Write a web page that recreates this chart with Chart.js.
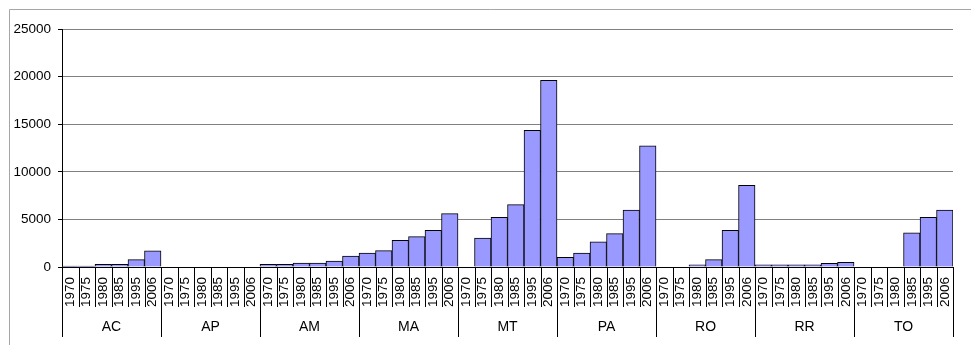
<!DOCTYPE html>
<html>
<head>
<meta charset="utf-8">
<script src="https://cdn.jsdelivr.net/npm/chart.js@4/dist/chart.umd.min.js"></script>
<style>
  html, body { margin: 0; padding: 0; background: #ffffff; }
  #wrap { width: 971px; height: 345px; position: relative; }
</style>
</head>
<body>
<div id="wrap"><canvas id="chart" width="971" height="345"></canvas></div>
<script>
// States (outer category level) and survey years (inner level)
const states = ['AC', 'AP', 'AM', 'MA', 'MT', 'PA', 'RO', 'RR', 'TO'];
const years = ['1970', '1975', '1980', '1985', '1995', '2006'];

// Values per state, one entry per year
const acValues = [90, 90, 280, 280, 770, 1710];
const apValues = [0, 0, 0, 0, 0, 0];
const amValues = [280, 280, 420, 420, 630, 1160];
const maValues = [1470, 1720, 2800, 3190, 3860, 5600];
const mtValues = [0, 3050, 5220, 6550, 14350, 19600];
const paValues = [1020, 1470, 2650, 3500, 5990, 12740];
const roValues = [0, 0, 240, 770, 3860, 8580];
const rrValues = [240, 240, 240, 240, 380, 490];
const toValues = [0, 0, 0, 3600, 5220, 5990];

// Y-axis ticks
const yTicks = [0, 5000, 10000, 15000, 20000, 25000];

const stateSeries = [acValues, apValues, amValues, maValues, mtValues, paValues, roValues, rrValues, toValues];
const labels = [];
const values = [];
stateSeries.forEach(function (series) {
  series.forEach(function (v, j) {
    labels.push(years[j]);
    values.push(v);
  });
});

const FONT_FAMILY = '"Liberation Sans", Arial, sans-serif';
const FONT = { family: FONT_FAMILY, size: 13.5 };
const GROUP_FONT_SIZE = 14;

// Draws the outer frame, the category separators and the state names
const groupAxisPlugin = {
  id: 'groupAxis',
  beforeDraw: function (chart) {
    const ctx = chart.ctx;
    ctx.save();
    ctx.strokeStyle = '#a6a6a6';
    ctx.lineWidth = 1;
    ctx.beginPath();
    ctx.moveTo(9.5, chart.height);
    ctx.lineTo(9.5, 9.5);
    ctx.lineTo(chart.width, 9.5);
    ctx.stroke();
    ctx.restore();
  },
  afterDraw: function (chart) {
    const ctx = chart.ctx;
    const xs = chart.scales.x;
    const area = chart.chartArea;
    const n = labels.length;
    const half = (xs.getPixelForValue(1) - xs.getPixelForValue(0)) / 2;
    const edge = function (i) {
      return i < n ? xs.getPixelForValue(i) - half : xs.getPixelForValue(n - 1) + half;
    };
    ctx.save();
    ctx.strokeStyle = '#000000';
    ctx.lineWidth = 1;
    for (let i = 0; i <= n; i++) {
      const x = Math.round(edge(i)) + 0.5;
      const isGroup = i % years.length === 0;
      ctx.beginPath();
      ctx.moveTo(x, area.bottom);
      ctx.lineTo(x, area.bottom + (isGroup ? 70 : 40));
      ctx.stroke();
    }
    ctx.fillStyle = '#000000';
    ctx.font = GROUP_FONT_SIZE + 'px ' + FONT_FAMILY;
    ctx.textAlign = 'center';
    ctx.textBaseline = 'middle';
    states.forEach(function (s, k) {
      const x0 = edge(k * years.length);
      const x1 = edge((k + 1) * years.length);
      ctx.fillText(s, (x0 + x1) / 2, area.bottom + 60);
    });
    ctx.restore();
  }
};

new Chart(document.getElementById('chart'), {
  type: 'bar',
  data: {
    labels: labels,
    datasets: [{
      data: values,
      backgroundColor: '#9999ff',
      borderColor: '#000000',
      borderWidth: 1,
      borderSkipped: 'bottom',
      categoryPercentage: 1.0,
      barPercentage: 1.0
    }]
  },
  options: {
    responsive: false,
    animation: false,
    layout: { padding: { left: 0, right: 1, top: 29, bottom: 0 } },
    plugins: {
      legend: { display: false },
      tooltip: { enabled: false }
    },
    scales: {
      x: {
        offset: true,
        grid: { display: true, drawOnChartArea: false, drawTicks: false },
        border: { display: true, color: '#000000', width: 1 },
        ticks: {
          autoSkip: false,
          minRotation: 90,
          maxRotation: 90,
          padding: 10,
          color: '#000000',
          font: FONT
        },
        afterFit: function (scale) { scale.height = 78; }
      },
      y: {
        min: 0,
        max: 25000,
        afterBuildTicks: function (scale) {
          scale.ticks = yTicks.map(function (v) { return { value: v }; });
        },
        grid: { color: '#808080', lineWidth: 1, tickLength: 4, tickColor: '#000000' },
        border: { display: true, color: '#000000', width: 1 },
        ticks: {
          padding: 7,
          color: '#000000',
          font: FONT,
          callback: function (v) { return String(v); }
        },
        afterFit: function (scale) { scale.width = 62; }
      }
    }
  },
  plugins: [groupAxisPlugin]
});
</script>
</body>
</html>
